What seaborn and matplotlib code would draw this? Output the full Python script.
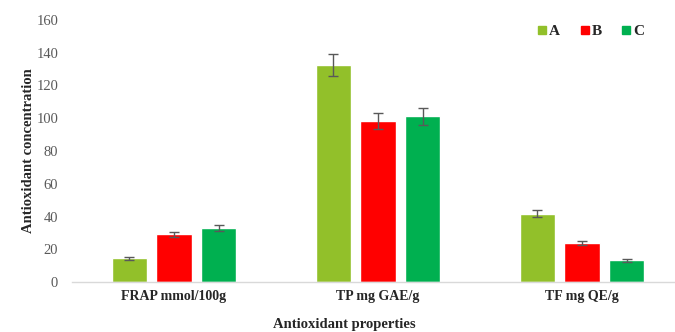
import matplotlib
matplotlib.use("Agg")
import matplotlib.pyplot as plt
import seaborn as sns
import pandas as pd
from matplotlib.lines import Line2D

categories = ["FRAP mmol/100g", "TP mg GAE/g", "TF mg QE/g"]
groups = ["A", "B", "C"]
values_A = [14.4, 132.6, 41.8]
values_B = [29.2, 98.5, 23.8]
values_C = [32.9, 101.1, 13.2]
err_A = [1.0, 6.6, 2.2]
err_B = [1.5, 5.0, 1.2]
err_C = [1.8, 5.2, 0.7]
colors = ["#92C02A", "#FF0000", "#00B050"]

rows = []
for g, vals, errs in zip(groups, [values_A, values_B, values_C], [err_A, err_B, err_C]):
    for c, v, e in zip(categories, vals, errs):
        rows.append({"Category": c, "Group": g, "Value": v, "Err": e})
df = pd.DataFrame(rows)

sns.set_style("white")
plt.rcParams["font.family"] = ["Liberation Serif", "DejaVu Serif"]

fig = plt.figure(figsize=(6.75, 3.32), dpi=100)
ax = fig.add_axes([72/675, 50/332, (684-72)/675, (282-20)/332])

sns.barplot(data=df, x="Category", y="Value", hue="Group", order=categories,
            hue_order=groups, palette=colors, width=0.66, gap=0.22,
            errorbar=None, ax=ax, legend=False, saturation=1)

for container, g in zip(ax.containers, groups):
    sub = df[df.Group == g].set_index("Category").loc[categories]
    xs = [p.get_x() + p.get_width()/2 for p in container.patches]
    ys = [p.get_height() for p in container.patches]
    ax.errorbar(xs, ys, yerr=sub["Err"].values, fmt="none", ecolor="#595959",
                elinewidth=1.0, capsize=3.5, capthick=1.0)

ax.set_ylim(0, 160)
ax.set_yticks(range(0, 161, 20))
ax.set_xlim(-0.5, 2.5)
for s in ["top", "right", "left"]:
    ax.spines[s].set_visible(False)
ax.spines["bottom"].set_color("#D9D9D9")
ax.spines["bottom"].set_linewidth(1.0)
ax.tick_params(axis="y", length=0, labelsize=10.5, labelcolor="#595959", pad=10)
ax.tick_params(axis="x", length=0, labelsize=10, pad=6)
for t in ax.get_xticklabels():
    t.set_fontweight("bold")

ax.set_ylabel("Antioxidant concentration", fontsize=10.5, fontweight="bold")
ax.yaxis.set_label_coords((35 - 72) / 612, 0.5)
ax.set_xlabel("Antioxidant properties", fontsize=10.5, fontweight="bold")
ax.xaxis.set_label_coords((344 - 72) / 612, -36 / 262)
ax.xaxis.label.set_va("top")

handles = [Line2D([0], [0], marker="s", linestyle="none", markersize=6,
                  markerfacecolor=c, markeredgecolor=c) for c in colors]
fig.legend(handles, groups, loc="center", bbox_to_anchor=(590/675, 1 - 31/332),
           ncol=3, frameon=False, handletextpad=0.05, columnspacing=1.2,
           prop={"weight": "bold", "size": 11}, handlelength=0.8)

fig.savefig("out.png", dpi=100)
